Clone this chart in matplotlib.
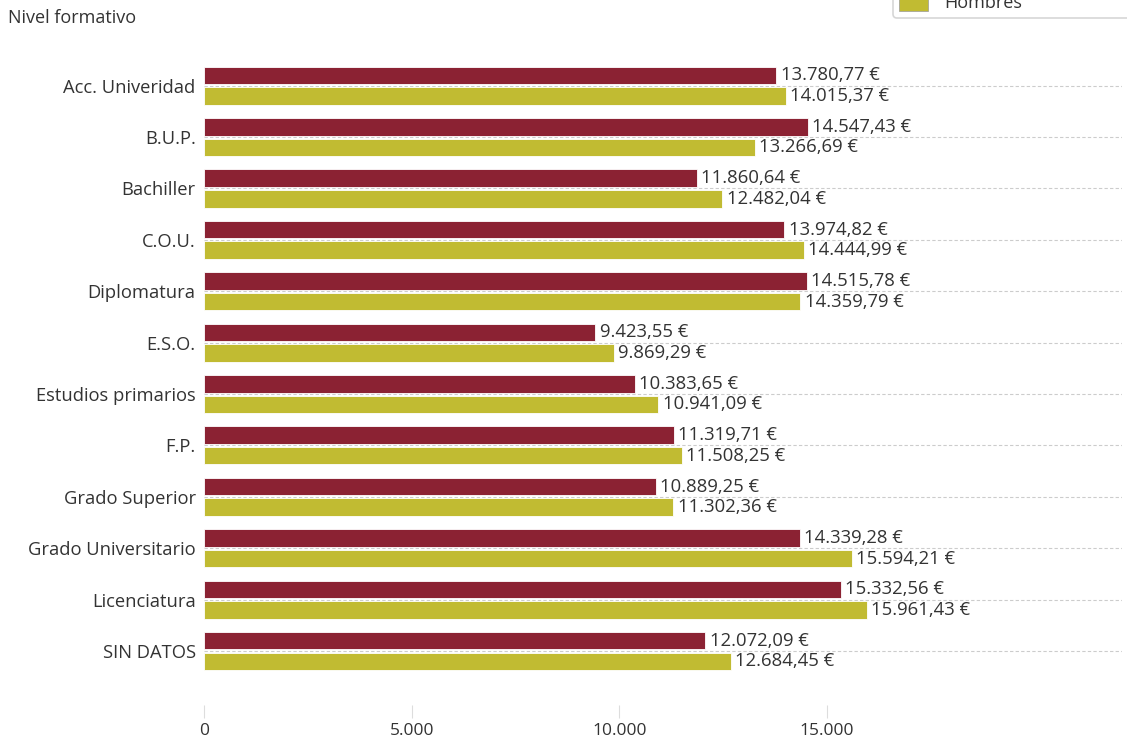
import matplotlib.pyplot as plt
import matplotlib.patches as mpatches

plt.rcParams['font.family'] = ['Open Sans', 'DejaVu Sans']

categorias = ["Acc. Univeridad", "B.U.P.", "Bachiller", "C.O.U.", "Diplomatura",
              "E.S.O.", "Estudios primarios", "F.P.", "Grado Superior",
              "Grado Universitario", "Licenciatura", "SIN DATOS"]
mujeres = [13780.77, 14547.43, 11860.64, 13974.82, 14515.78, 9423.55,
           10383.65, 11319.71, 10889.25, 14339.28, 15332.56, 12072.09]
hombres = [14015.37, 13266.69, 12482.04, 14444.99, 14359.79, 9869.29,
           10941.09, 11508.25, 11302.36, 15594.21, 15961.43, 12684.45]
xticks = [0, 5000, 10000, 15000]

c_muj = "#8B2233"
c_hom = "#C1BB32"
txt = "#333333"


def euro(v):
    s = f"{v:,.2f}".replace(",", "X").replace(".", ",").replace("X", ".")
    return s + " €"


def miles(v):
    return f"{v:,.0f}".replace(",", ".")


fig = plt.figure(figsize=(11.27, 7.4), dpi=100)
ax = fig.add_axes([204 / 1127, 1 - 705 / 740, 918 / 1127, 645 / 740])

ypos = list(range(len(categorias)))
h = 0.34
off = 0.2

for i in ypos:
    ax.axhline(i, color="#cccccc", lw=0.8, ls=(0, (3, 2)), zorder=0)

ax.barh([y - off for y in ypos], mujeres, height=h, color=c_muj,
        edgecolor="white", linewidth=0.6, zorder=2)
ax.barh([y + off for y in ypos], hombres, height=h, color=c_hom,
        edgecolor="white", linewidth=0.6, zorder=2)

for y, v in zip(ypos, mujeres):
    ax.annotate(euro(v), (v, y - off), xytext=(3, 0), textcoords="offset points",
                va="center", ha="left", fontsize=13.3, color=txt)
for y, v in zip(ypos, hombres):
    ax.annotate(euro(v), (v, y + off), xytext=(3, 0), textcoords="offset points",
                va="center", ha="left", fontsize=13.3, color=txt)

ax.set_xlim(0, 22100)
ax.set_ylim(12.05, -0.5)
ax.set_yticks(ypos)
ax.set_yticklabels(categorias, fontsize=13.2, color=txt)
ax.set_xticks(xticks)
ax.set_xticklabels([miles(x) for x in xticks], fontsize=12.5, color=txt)
ax.tick_params(axis="y", length=0, pad=6)
ax.tick_params(axis="x", length=9, color="#dddddd", pad=4)
for s in ax.spines.values():
    s.set_visible(False)

fig.text(8 / 1127, 1 - 18 / 740, "Nivel formativo", fontsize=13, color=txt,
         va="center", ha="left")

handles = [mpatches.Patch(facecolor=c_muj, edgecolor="#999999", lw=0.5, label="Mujeres"),
           mpatches.Patch(facecolor=c_hom, edgecolor="#999999", lw=0.5, label="Hombres")]
leg = fig.legend(handles=handles, loc="lower left", mode="expand",
                 bbox_to_anchor=(893 / 1127, 1 - 18 / 740, 240 / 1127, 0.05),
                 borderaxespad=0, fontsize=13, frameon=True, fancybox=True,
                 edgecolor="#cccccc", handlelength=1.6, handleheight=1.3,
                 labelspacing=0.3, borderpad=0.35, handletextpad=0.9)
leg.get_frame().set_linewidth(1.2)
for t in leg.get_texts():
    t.set_color(txt)

fig.savefig("out.png", dpi=100)
